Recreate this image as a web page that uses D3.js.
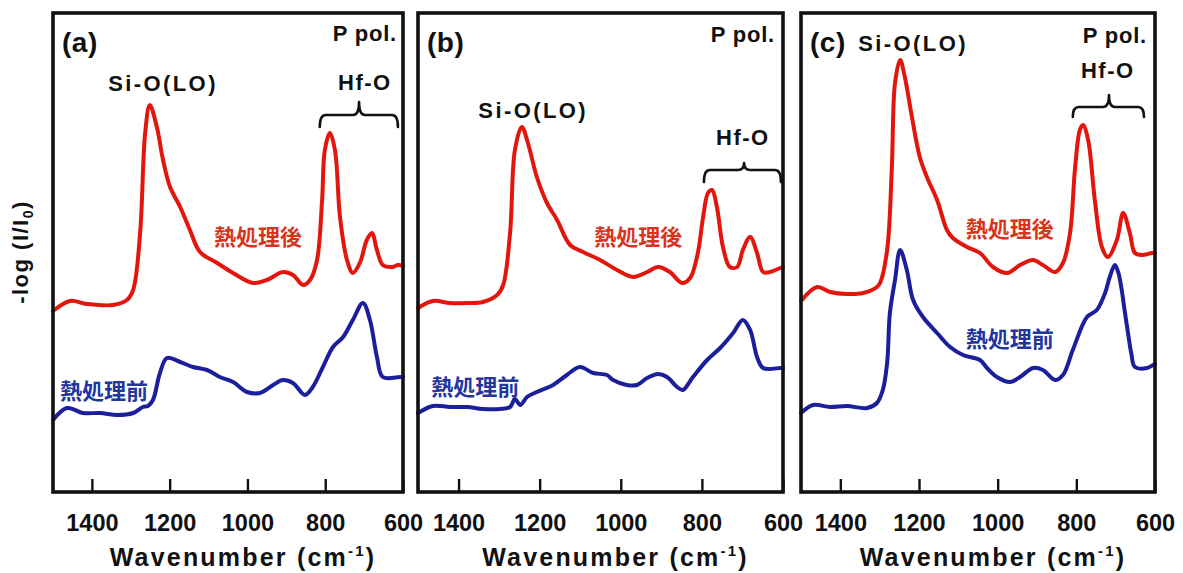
<!DOCTYPE html>
<html>
<head>
<meta charset="utf-8">
<script src="https://cdn.jsdelivr.net/npm/d3@7"></script>
<style>
  html, body { margin: 0; padding: 0; background: #ffffff; }
  svg { display: block; }
  .lat { font-family: "Liberation Sans", Arial, sans-serif; font-weight: bold; fill: #111; }
  .cjk { font-family: "Noto Sans CJK JP", sans-serif; font-weight: bold; }
</style>
</head>
<body>
<svg id="chart" width="1183" height="573"></svg>
<script>
// Spectra: [wavenumber (cm-1), -log(I/I0) in arbitrary units]
const aAfter = [[1500,181],[1456,191],[1413,188],[1346,187],[1310,192],[1294,202],[1276,259],[1263,359],[1251,387],[1233,365],[1217,332],[1199,305],[1173,285],[1148,262],[1122,240],[1078,229],[1037,219],[986,209],[950,212],[909,220],[883,217],[857,207],[839,212],[821,232],[808,292],[801,342],[788,359],[775,342],[762,275],[744,232],[729,219],[711,229],[693,252],[680,259],[667,242],[652,227],[628,225],[613,227],[600,226]];
const aBefore = [[1500,72],[1464,84],[1423,79],[1379,79],[1335,77],[1294,79],[1269,85],[1256,86],[1243,92],[1225,119],[1207,134],[1173,130],[1140,125],[1104,122],[1071,115],[1037,110],[1001,100],[968,99],[934,107],[909,112],[883,109],[852,97],[832,105],[806,125],[780,145],[754,155],[729,172],[703,189],[685,172],[667,135],[652,115],[608,115],[600,115]];
const bAfter = [[1500,184],[1463,191],[1421,189],[1379,189],[1340,190],[1305,197],[1290,207],[1273,259],[1261,342],[1244,365],[1229,349],[1207,315],[1182,289],[1157,272],[1125,247],[1093,240],[1051,232],[1009,222],[970,215],[935,220],[908,225],[879,220],[849,209],[829,214],[810,239],[797,275],[785,299],[775,302],[763,285],[748,245],[731,225],[713,225],[699,242],[681,255],[664,239],[649,220],[632,220],[607,224],[600,225]];
const bBefore = [[1500,79],[1463,86],[1421,85],[1379,85],[1340,83],[1298,83],[1273,85],[1261,93],[1248,87],[1231,95],[1207,100],[1167,107],[1133,117],[1101,125],[1068,119],[1034,117],[1019,112],[985,107],[960,107],[935,114],[908,118],[886,115],[861,105],[847,102],[822,115],[787,132],[755,144],[723,159],[699,172],[681,162],[664,135],[649,124],[607,124],[600,124]];
const cAfter = [[1500,191],[1459,205],[1426,200],[1383,198],[1342,199],[1307,205],[1299,209],[1281,242],[1269,325],[1261,409],[1248,432],[1236,415],[1218,375],[1198,335],[1180,315],[1154,292],[1129,262],[1114,254],[1078,245],[1045,239],[1012,225],[976,219],[943,227],[910,232],[885,227],[854,220],[834,229],[816,259],[803,325],[791,362],[783,367],[770,352],[753,292],[735,245],[720,235],[697,252],[681,279],[664,259],[651,239],[633,237],[608,239],[600,239]];
const cBefore = [[1500,79],[1469,87],[1426,85],[1383,86],[1332,84],[1307,89],[1292,102],[1281,129],[1274,179],[1261,212],[1248,242],[1231,222],[1215,192],[1190,175],[1154,159],[1121,145],[1088,137],[1045,132],[1027,124],[1002,115],[969,110],[943,115],[910,124],[885,122],[854,112],[834,117],[809,142],[773,175],[748,182],[727,199],[715,215],[702,227],[693,219],[685,203],[677,181],[669,160],[660,138],[651,125],[620,124],[605,127],[600,128]];

const panelLabels = ["(a)", "(b)", "(c)"];
const seriesNames = ["熱処理後", "熱処理前"];
const wavenumberTicks = [1400, 1200, 1000, 800, 600];
const xDomain = [1500, 600];
const yDomain = [0, 480];

// Per-panel layout; annotation anchors are in data units (wavenumber, absorbance)
const panels = [
  { label: panelLabels[0], after: aAfter, before: aBefore, left: 53, right: 403, polDx: -6, polY: 33,
    siO: [1217, 409], hfO: [698, 410], brace: { x0: 814, x1: 613, xm: 713, top: 377, ends: 365, tip: 390 },
    afterText: [973, 257], beforeText: [1369, 103] },
  { label: panelLabels[1], after: bAfter, before: bBefore, left: 418, right: 783, polDx: -8, polY: 34,
    siO: [1216, 382], hfO: [699, 355], brace: { x0: 795, x1: 605, xm: 696, top: 322, ends: 310, tip: 329 },
    afterText: [957, 257], beforeText: [1359, 107] },
  { label: panelLabels[2], after: cAfter, before: cBefore, left: 801, right: 1155, polDx: -8, polY: 35,
    siO: [1215, 449], hfO: [720, 422], brace: { x0: 809, x1: 628, xm: 717, top: 385, ends: 375, tip: 397 },
    afterText: [969, 265], beforeText: [969, 155] }
];

const TOP = 13, BOTTOM = 492;
const RED = "#e3160d", BLUE = "#1b1f9b";
const RED_TEXT = "#d9341c", BLUE_TEXT = "#23359e";

const svg = d3.select("#chart");

panels.forEach(p => {
  const x = d3.scaleLinear().domain(xDomain).range([p.left, p.right]);
  const y = d3.scaleLinear().domain(yDomain).range([BOTTOM, TOP - 1]);
  const g = svg.append("g");

  const line = d3.line()
    .x(d => x(d[0]))
    .y(d => y(d[1]))
    .curve(d3.curveCatmullRom.alpha(0.5));

  // spectra
  g.append("path").datum(p.after)
    .attr("d", line).attr("fill", "none")
    .attr("stroke", RED).attr("stroke-width", 4)
    .attr("stroke-linejoin", "round").attr("stroke-linecap", "round");
  g.append("path").datum(p.before)
    .attr("d", line).attr("fill", "none")
    .attr("stroke", BLUE).attr("stroke-width", 4)
    .attr("stroke-linejoin", "round").attr("stroke-linecap", "round");

  // bottom axis with inward ticks
  const axis = d3.axisBottom(x)
    .tickValues(wavenumberTicks)
    .tickFormat(d3.format("d"))
    .tickSizeInner(-13)
    .tickSizeOuter(0)
    .tickPadding(22);
  const ax = g.append("g").attr("transform", `translate(0,${BOTTOM})`).call(axis);
  ax.select(".domain").remove();
  ax.selectAll(".tick line").attr("stroke", "#111").attr("stroke-width", 2.4);
  ax.selectAll(".tick text")
    .attr("class", "lat")
    .style("font-size", "23.5px")
    .attr("fill", "#111");

  // frame
  g.append("rect")
    .attr("x", p.left).attr("y", TOP)
    .attr("width", p.right - p.left).attr("height", BOTTOM - TOP)
    .attr("fill", "none").attr("stroke", "#111").attr("stroke-width", 3.6);

  // x-axis title
  const title = g.append("text").attr("class", "lat")
    .attr("x", (p.left + p.right) / 2 + 15).attr("y", 566)
    .attr("text-anchor", "middle")
    .style("font-size", "25px").style("letter-spacing", "2.2px");
  title.append("tspan").text("Wavenumber (cm");
  title.append("tspan").text("-1").style("font-size", "15px").attr("dy", -10);
  title.append("tspan").text(")").attr("dy", 10);

  // panel letter and polarisation
  g.append("text").attr("class", "lat")
    .attr("x", p.left + 9).attr("y", 42)
    .attr("dominant-baseline", "central")
    .style("font-size", "28px").style("letter-spacing", "0.5px")
    .text(p.label);
  g.append("text").attr("class", "lat")
    .attr("x", p.right + p.polDx).attr("y", p.polY)
    .attr("dominant-baseline", "central").attr("text-anchor", "end")
    .style("font-size", "22px").style("letter-spacing", "0.8px")
    .text("P pol.");

  // band labels
  g.append("text").attr("class", "lat")
    .attr("x", x(p.siO[0])).attr("y", y(p.siO[1]))
    .attr("dominant-baseline", "central").attr("text-anchor", "middle")
    .style("font-size", "22px").style("letter-spacing", "2.4px")
    .text("Si-O(LO)");
  g.append("text").attr("class", "lat")
    .attr("x", x(p.hfO[0])).attr("y", y(p.hfO[1]))
    .attr("dominant-baseline", "central").attr("text-anchor", "middle")
    .style("font-size", "22px").style("letter-spacing", "1.5px")
    .text("Hf-O");

  // brace over the Hf-O bands
  const b = p.brace;
  const bx0 = x(b.x0), bx1 = x(b.x1), bxm = x(b.xm);
  const yt = y(b.top), ye = y(b.ends), yk = y(b.tip);
  const r = 6;
  const bracePath = d3.path();
  bracePath.moveTo(bx0, ye);
  bracePath.quadraticCurveTo(bx0, yt, bx0 + r, yt);
  bracePath.lineTo(bxm - r, yt);
  bracePath.quadraticCurveTo(bxm, yt, bxm, yk);
  bracePath.moveTo(bxm, yk);
  bracePath.quadraticCurveTo(bxm, yt, bxm + r, yt);
  bracePath.lineTo(bx1 - r, yt);
  bracePath.quadraticCurveTo(bx1, yt, bx1, ye);
  g.append("path").attr("d", bracePath.toString())
    .attr("fill", "none").attr("stroke", "#111").attr("stroke-width", 2.6)
    .attr("stroke-linecap", "round");

  // series labels
  g.append("text").attr("class", "cjk")
    .attr("x", x(p.afterText[0])).attr("y", y(p.afterText[1]))
    .attr("dominant-baseline", "central").attr("text-anchor", "middle")
    .attr("fill", RED_TEXT).style("font-size", "22px")
    .text(seriesNames[0]);
  g.append("text").attr("class", "cjk")
    .attr("x", x(p.beforeText[0])).attr("y", y(p.beforeText[1]))
    .attr("dominant-baseline", "central").attr("text-anchor", "middle")
    .attr("fill", BLUE_TEXT).style("font-size", "22px")
    .text(seriesNames[1]);
});

// shared y-axis title
const yTitle = svg.append("text").attr("class", "lat")
  .attr("transform", "translate(28,252) rotate(-90)")
  .attr("text-anchor", "middle")
  .style("font-size", "22px").style("letter-spacing", "1.5px");
yTitle.append("tspan").text("-log (I/I");
yTitle.append("tspan").text("0").style("font-size", "14px").attr("dy", 5);
yTitle.append("tspan").text(")").attr("dy", -5);
</script>
</body>
</html>
